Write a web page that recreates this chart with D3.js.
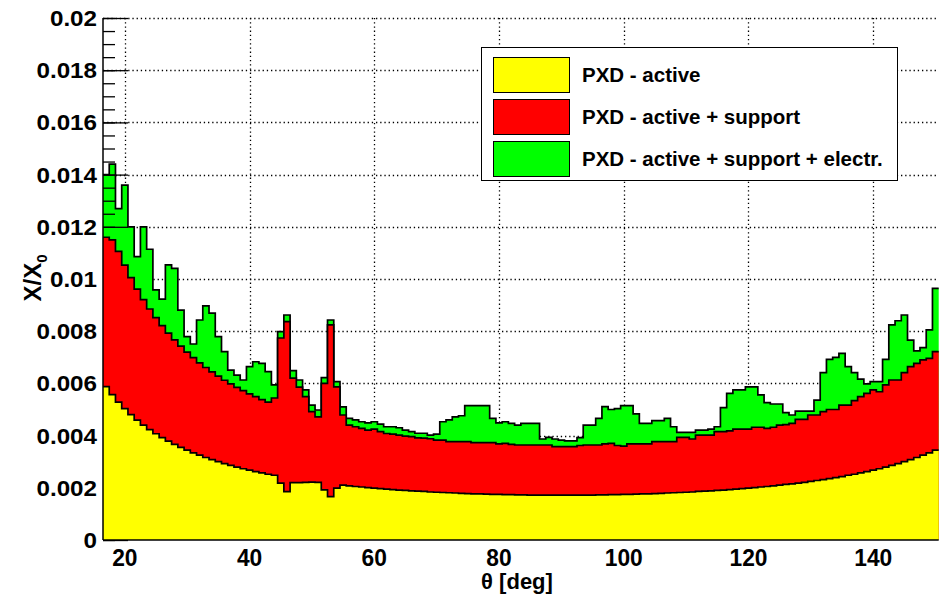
<!DOCTYPE html>
<html>
<head>
<meta charset="utf-8">
<script src="https://cdn.jsdelivr.net/npm/d3@7"></script>
<style>
  body { margin: 0; background: #fff; }
  svg { display: block; }
  text { font-family: "Liberation Sans", Arial, sans-serif; font-weight: bold; fill: #000; }
</style>
</head>
<body>
<svg id="chart"></svg>
<script>
// histogram binning: 1 degree bins centred on 17 .. 150
const thetaMin = 16.5, thetaMax = 150.5;
const theta = d3.range(17, 151);

// X/X0, cumulative contributions (17 deg .. 150 deg)
const active = [
  0.00588, 0.00557, 0.00528, 0.00503, 0.00480, 0.00459, 0.00440, 0.00423, 0.00407, 0.00392,
  0.00379, 0.00366, 0.00355, 0.00344, 0.00334, 0.00325, 0.00316, 0.00308, 0.00300, 0.00293,
  0.00286, 0.00279, 0.00273, 0.00268, 0.00262, 0.00257, 0.00252, 0.00248, 0.00218, 0.00185,
  0.00220, 0.00220, 0.00221, 0.00222, 0.00221, 0.00192, 0.00166, 0.00199, 0.00210, 0.00207,
  0.00205, 0.00203, 0.00201, 0.00199, 0.00197, 0.00195, 0.00193, 0.00191, 0.00190, 0.00188,
  0.00187, 0.00186, 0.00184, 0.00183, 0.00182, 0.00181, 0.00180, 0.00179, 0.00178, 0.00177,
  0.00177, 0.00176, 0.00175, 0.00175, 0.00174, 0.00174, 0.00173, 0.00173, 0.00172, 0.00172,
  0.00172, 0.00172, 0.00172, 0.00172, 0.00172, 0.00172, 0.00172, 0.00172, 0.00172, 0.00173,
  0.00173, 0.00174, 0.00174, 0.00175, 0.00175, 0.00176, 0.00177, 0.00177, 0.00178, 0.00179,
  0.00180, 0.00181, 0.00182, 0.00183, 0.00184, 0.00186, 0.00187, 0.00188, 0.00190, 0.00191,
  0.00193, 0.00195, 0.00197, 0.00199, 0.00201, 0.00203, 0.00205, 0.00207, 0.00210, 0.00213,
  0.00215, 0.00218, 0.00221, 0.00225, 0.00228, 0.00231, 0.00235, 0.00239, 0.00243, 0.00248,
  0.00252, 0.00257, 0.00262, 0.00268, 0.00273, 0.00279, 0.00286, 0.00293, 0.00300, 0.00308,
  0.00316, 0.00325, 0.00334, 0.00344
];

const activeSupport = [
  0.01160, 0.01150, 0.01106, 0.01053, 0.01005, 0.00961, 0.00921, 0.00885, 0.00852, 0.00821,
  0.00793, 0.00767, 0.00743, 0.00720, 0.00699, 0.00679, 0.00661, 0.00644, 0.00628, 0.00612,
  0.00598, 0.00585, 0.00572, 0.00560, 0.00549, 0.00538, 0.00528, 0.00544, 0.00774, 0.00837,
  0.00620, 0.00586, 0.00549, 0.00492, 0.00472, 0.00600, 0.00824, 0.00587, 0.00479, 0.00440,
  0.00434, 0.00428, 0.00421, 0.00425, 0.00415, 0.00408, 0.00406, 0.00402, 0.00398, 0.00396,
  0.00391, 0.00390, 0.00388, 0.00383, 0.00383, 0.00377, 0.00377, 0.00377, 0.00377, 0.00373,
  0.00373, 0.00373, 0.00373, 0.00368, 0.00370, 0.00366, 0.00364, 0.00364, 0.00364, 0.00364,
  0.00364, 0.00364, 0.00358, 0.00358, 0.00358, 0.00358, 0.00362, 0.00364, 0.00364, 0.00364,
  0.00368, 0.00370, 0.00362, 0.00360, 0.00368, 0.00368, 0.00368, 0.00368, 0.00377, 0.00377,
  0.00377, 0.00377, 0.00393, 0.00393, 0.00387, 0.00402, 0.00402, 0.00402, 0.00415, 0.00415,
  0.00418, 0.00425, 0.00425, 0.00425, 0.00432, 0.00432, 0.00428, 0.00432, 0.00440, 0.00442,
  0.00447, 0.00462, 0.00462, 0.00479, 0.00479, 0.00492, 0.00500, 0.00500, 0.00517, 0.00517,
  0.00534, 0.00549, 0.00562, 0.00575, 0.00568, 0.00594, 0.00613, 0.00613, 0.00641, 0.00664,
  0.00677, 0.00690, 0.00696, 0.00722
];

const activeSupportElectr = [
  0.01400, 0.01440, 0.01270, 0.01360, 0.01200, 0.01086, 0.01200, 0.01114, 0.00958, 0.00923,
  0.01054, 0.01041, 0.00881, 0.00779, 0.00751, 0.00843, 0.00897, 0.00869, 0.00779, 0.00722,
  0.00651, 0.00632, 0.00613, 0.00664, 0.00683, 0.00677, 0.00645, 0.00594, 0.00798, 0.00862,
  0.00649, 0.00613, 0.00575, 0.00517, 0.00498, 0.00622, 0.00843, 0.00607, 0.00510, 0.00466,
  0.00460, 0.00453, 0.00449, 0.00453, 0.00444, 0.00434, 0.00434, 0.00430, 0.00421, 0.00415,
  0.00409, 0.00409, 0.00402, 0.00406, 0.00453, 0.00460, 0.00472, 0.00476, 0.00515, 0.00515,
  0.00515, 0.00515, 0.00466, 0.00449, 0.00453, 0.00447, 0.00440, 0.00447, 0.00447, 0.00447,
  0.00387, 0.00393, 0.00387, 0.00383, 0.00380, 0.00380, 0.00392, 0.00440, 0.00440, 0.00466,
  0.00511, 0.00500, 0.00503, 0.00515, 0.00515, 0.00483, 0.00447, 0.00447, 0.00457, 0.00457,
  0.00466, 0.00434, 0.00412, 0.00412, 0.00412, 0.00421, 0.00421, 0.00425, 0.00434, 0.00507,
  0.00562, 0.00575, 0.00575, 0.00587, 0.00587, 0.00556, 0.00526, 0.00521, 0.00521, 0.00488,
  0.00479, 0.00494, 0.00494, 0.00494, 0.00536, 0.00641, 0.00692, 0.00700, 0.00715, 0.00664,
  0.00641, 0.00616, 0.00598, 0.00607, 0.00607, 0.00692, 0.00824, 0.00840, 0.00862, 0.00766,
  0.00725, 0.00737, 0.00805, 0.00964
];

const xTicks = [20, 40, 60, 80, 100, 120, 140];
const yTicks = [0, 0.002, 0.004, 0.006, 0.008, 0.01, 0.012, 0.014, 0.016, 0.018, 0.02];
const yTickLabels = ["0", "0.002", "0.004", "0.006", "0.008", "0.01", "0.012", "0.014", "0.016", "0.018", "0.02"];
const legendLabels = ["PXD - active", "PXD - active + support", "PXD - active + support + electr."];
const colors = ["#ffff00", "#ff0000", "#00ff00"];

const width = 940, height = 594;
const plot = { left: 103, right: 938.7, top: 18, bottom: 540 };

const svg = d3.select("#chart").attr("width", width).attr("height", height);

const x = d3.scaleLinear().domain([thetaMin, thetaMax]).range([plot.left, plot.right]);
const y = d3.scaleLinear().domain([0, 0.02]).range([plot.bottom, plot.top]);

// dotted grid
const grid = svg.append("g").attr("stroke", "#000").attr("stroke-width", 1.3).attr("stroke-dasharray", "1.3 2.9");
grid.selectAll(".gx").data(xTicks).enter().append("line")
  .attr("x1", d => Math.round(x(d)) + 0.5).attr("x2", d => Math.round(x(d)) + 0.5)
  .attr("y1", plot.top).attr("y2", plot.bottom);
grid.selectAll(".gy").data(yTicks.slice(1)).enter().append("line")
  .attr("y1", d => Math.round(y(d)) + 0.5).attr("y2", d => Math.round(y(d)) + 0.5)
  .attr("x1", plot.left).attr("x2", plot.right);

function binPoints(values) {
  let pts = theta.map((t, i) => [t - 0.5, values[i]]);
  pts.push([thetaMax, values[values.length - 1]]);
  return pts;
}

const area = d3.area().curve(d3.curveStepAfter)
  .x(d => x(d[0])).y0(y(0)).y1(d => y(d[1]));
const line = d3.line().curve(d3.curveStepAfter)
  .x(d => x(d[0])).y(d => y(d[1]));

function drawHist(values, color) {
  let pts = binPoints(values);
  svg.append("path").attr("d", area(pts)).attr("fill", color);
  svg.append("path").attr("d", line(pts)).attr("fill", "none")
    .attr("stroke", "#000").attr("stroke-width", 1.7);
}

drawHist(activeSupportElectr, colors[2]);

// axis ticks (drawn with the first histogram, later ones cover them)
const yMinor = d3.range(0, 0.02001, 0.0005);
svg.append("g").attr("transform", `translate(${plot.left},0)`)
  .call(d3.axisLeft(y).tickValues(yMinor).tickSize(-12).tickFormat(""))
  .call(g => g.select(".domain").remove())
  .selectAll("line").attr("stroke-width", 1.3);
svg.append("g").attr("transform", `translate(${plot.left},0)`)
  .call(d3.axisLeft(y).tickValues(yTicks).tickSize(-25).tickFormat(""))
  .call(g => g.select(".domain").remove())
  .selectAll("line").attr("stroke-width", 1.3);

drawHist(activeSupport, colors[1]);
drawHist(active, colors[0]);

// axis lines and labels
svg.append("line").attr("x1", plot.left).attr("x2", plot.left)
  .attr("y1", plot.top).attr("y2", plot.bottom).attr("stroke", "#000").attr("stroke-width", 1.5);
svg.append("line").attr("x1", plot.left).attr("x2", plot.right)
  .attr("y1", plot.bottom).attr("y2", plot.bottom).attr("stroke", "#000").attr("stroke-width", 1.5);

svg.append("g").selectAll("text").data(yTicks).enter().append("text")
  .attr("transform", d => `translate(97,${y(d) + 8}) scale(1.1,1)`)
  .attr("text-anchor", "end").attr("font-size", 22)
  .text((d, i) => yTickLabels[i]);

svg.append("g").selectAll("text").data(xTicks).enter().append("text")
  .attr("transform", d => `translate(${x(d)},566) scale(0.95,1)`)
  .attr("text-anchor", "middle").attr("font-size", 24)
  .text(d => d);

svg.append("text").attr("x", 517).attr("y", 589).attr("text-anchor", "middle")
  .attr("font-size", 22).text("\u03b8 [deg]");

const yt = svg.append("text").attr("transform", "translate(41,278) rotate(-90)")
  .attr("text-anchor", "middle").attr("font-size", 24);
yt.append("tspan").text("X/X");
yt.append("tspan").attr("font-size", 15).attr("dy", 6).text("0");

// legend
const legend = svg.append("g");
legend.append("rect").attr("x", 481.5).attr("y", 47.5).attr("width", 416).attr("height", 133)
  .attr("fill", "#fff").attr("stroke", "#000").attr("stroke-width", 1);
const entries = legend.selectAll(".entry").data(legendLabels).enter().append("g")
  .attr("transform", (d, i) => `translate(0,${57 + i * 42})`);
entries.append("rect").attr("x", 493.5).attr("y", 0.5).attr("width", 76).attr("height", 35)
  .attr("fill", (d, i) => colors[i]).attr("stroke", "#000").attr("stroke-width", 1);
entries.append("text").attr("x", 582).attr("y", 25).attr("font-size", 20.5).text(d => d);
</script>
</body>
</html>
